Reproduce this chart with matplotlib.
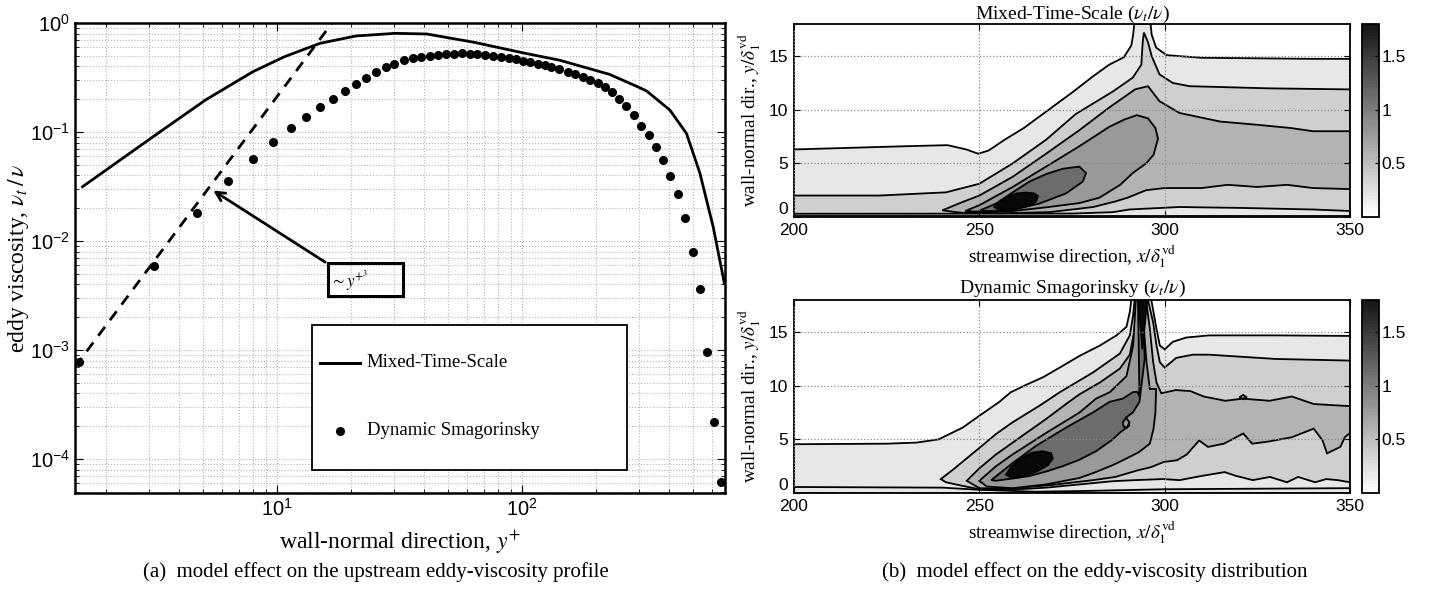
import numpy as np
import matplotlib
matplotlib.use("Agg")
import matplotlib.pyplot as plt
from matplotlib.patches import Rectangle
from matplotlib.lines import Line2D
from matplotlib.colors import LinearSegmentedColormap, Normalize
from matplotlib.cm import ScalarMappable

plt.rcParams['font.family'] = ['Liberation Sans', 'DejaVu Sans']
plt.rcParams['mathtext.fontset'] = 'stix'

SERIF = ['Liberation Serif', 'DejaVu Serif']

# ---------------- (a) upstream eddy-viscosity profile ----------------
mts_yplus = [1.61, 3.27, 5.12, 7.98, 10.75, 15.0, 21.0, 30.4, 40.9, 63.9, 100, 143,
             202, 228, 297, 323, 402, 470, 533, 604, 671]
mts_nut = [0.0315, 0.0973, 0.197, 0.357, 0.491, 0.651, 0.760, 0.804, 0.793, 0.665, 0.535, 0.455,
           0.365, 0.338, 0.26, 0.238, 0.159, 0.097, 0.042, 0.0135, 0.0041]

ds_yplus = [1.56, 3.16, 4.74, 6.34, 7.98, 9.68, 11.4, 13.1, 15.0, 16.9, 18.9, 21.0, 23.2, 25.5,
            27.9, 30.2, 33.0, 35.8, 38.9, 42.2, 45.5, 49.0, 52.8, 56.8, 61.2, 65.9, 71.0, 76.5,
            82.4, 88.8, 94.6, 101.4, 108.4, 116, 124, 132, 141.6, 153.7, 165.6, 177, 189.5,
            204, 218, 233, 249.6, 267, 286, 306, 329, 352, 377, 404, 433, 464, 498, 533,
            569, 610, 653]
ds_nut = [7.8e-4, 5.93e-3, 0.0180, 0.0353, 0.0565, 0.081, 0.108, 0.138, 0.170, 0.202, 0.239,
          0.276, 0.315, 0.353, 0.392, 0.423, 0.460, 0.474, 0.491, 0.501, 0.512, 0.519, 0.523,
          0.527, 0.523, 0.519, 0.508, 0.498, 0.488, 0.478, 0.467, 0.451, 0.439, 0.424, 0.409,
          0.392, 0.378, 0.357, 0.340, 0.318, 0.30, 0.28, 0.257, 0.234, 0.1995, 0.173, 0.143,
          0.114, 0.094, 0.073, 0.0553, 0.0395, 0.0268, 0.0161, 0.00798, 0.0036, 9.6e-4,
          2.2e-4, 6.2e-5]

# ~y+^3 reference line (end points)
cube_yplus = [1.5, 16.8]
cube_nut = [7.0e-4, 1.0]

# ---------------- (b) contour outlines, one polygon per level ----------------
# Mixed-Time-Scale
mts_l1_x = [200, 350, 350, 340, 325, 310, 304, 300.5, 297.7, 296.5, 296.2, 291.8, 291.5, 291.0,
            289.0, 285, 280.6, 275, 268.7, 262, 256.8, 252.5, 249.7, 246.5, 241.4, 230, 215, 200]
mts_l1_y = [0, 0, 14.75, 14.75, 14.8, 14.85, 15.0, 15.1, 15.8, 17.0, 18, 18, 17.0, 16.0,
            14.9, 14.2, 13.1, 11.6, 10.0, 8.3, 7.2, 6.2, 5.9, 6.3, 6.7, 6.6, 6.45, 6.3]

mts_l2_x = [200, 223, 241, 250, 259, 268, 276, 286, 291.4, 293.7, 294.1, 294.4, 295.5, 296.5,
            298.6, 302.2, 306.7, 328, 350, 350, 340, 320, 304, 290.5, 286, 275, 200]
mts_l2_y = [2.0, 2.0, 2.3, 3.1, 5.0, 7.2, 9.6, 11.7, 13.0, 14.2, 16.4, 17.2, 16.3, 15.0,
            13.3, 12.5, 12.2, 12.0, 11.9, 0.56, 0.7, 0.85, 0.93, 0.7, 0.45, 0.32, 0.3]

mts_l3_x = [240, 245.5, 250, 259, 268, 277, 285, 292, 295.5, 298.6, 304, 315, 325, 334, 340,
            350, 350, 340, 333, 325, 317, 310, 300, 295, 290, 286.7, 280.7, 268.8, 255, 245]
mts_l3_y = [0.62, 1.4, 2.0, 3.75, 5.9, 8.1, 10.2, 11.9, 12.2, 10.8, 9.7, 8.9, 8.6, 8.3, 8.0,
            8.0, 2.6, 2.7, 3.0, 2.8, 3.0, 2.7, 2.7, 2.5, 1.8, 1.45, 0.93, 0.45, 0.35, 0.4]

mts_l4_x = [246.2, 250, 259, 268, 277, 285, 289.2, 292.5, 295.5, 297.5, 298.2, 297, 295,
            291.4, 288, 282.4, 277, 268, 259, 252]
mts_l4_y = [0.56, 1.1, 2.8, 4.7, 6.6, 8.4, 9.1, 9.5, 9.2, 8.3, 7.3, 5.8, 5.0,
            4.1, 3.0, 1.8, 1.3, 0.9, 0.56, 0.45]

mts_l5_x = [249.8, 254.5, 259, 263.5, 268, 272.5, 277, 278.8, 277.9, 273.4, 266.2, 259, 254]
mts_l5_y = [0.56, 1.25, 2.3, 3.3, 4.0, 4.5, 4.7, 4.1, 3.3, 2.2, 1.25, 0.7, 0.55]

mts_l6_x = [254, 255.5, 257.2, 260, 262.6, 264.8, 265.8, 265.3, 263.5, 260.8, 257.5, 255]
mts_l6_y = [0.94, 1.45, 1.85, 2.2, 2.28, 2.2, 1.95, 1.45, 1.05, 0.8, 0.68, 0.72]

# Dynamic Smagorinsky
ds_l1_x = [200, 350, 350, 330, 312, 305.8, 302.2, 300, 298.7, 297.8, 296.4, 291, 290.6, 289.7,
           287, 282.5, 277.1, 271.7, 267.2, 262.7, 258.5, 255.4, 250, 245.5, 239, 233, 225, 200]
ds_l1_y = [0, 0, 14.65, 14.7, 14.7, 14.5, 14.1, 13.4, 13.75, 15.3, 18, 18, 16.9, 15.5,
           14.7, 13.75, 12.8, 11.7, 10.8, 10.1, 9.4, 8.5, 7.2, 6.1, 5.0, 4.7, 4.6, 4.55]

ds_l2_x = [239.6, 242.8, 250, 254.5, 259, 266.5, 271.7, 280.7, 287.9, 290.6, 291.5, 291.9,
           295.5, 296.9, 297.8, 298.7, 300, 303.1, 307.6, 312, 330, 350, 350, 346.7, 343.6,
           340.6, 336, 333, 328.4, 323.8, 319.2, 316.2, 310.1, 304, 299.5, 292, 286, 277,
           268, 259, 250, 245, 241]
ds_l2_y = [1.3, 2.15, 4.2, 5.5, 6.6, 8.2, 9.4, 11.25, 13.0, 14.7, 16.6, 18,
           18, 15.9, 13.75, 12.2, 11.7, 12.6, 12.9, 12.9, 12.5, 12.35, 1.0, 1.2, 1.3,
           1.0, 1.5, 1.0, 1.5, 1.2, 1.6, 1.95, 1.6, 1.2, 1.3, 1.2, 1.1, 0.8,
           0.5, 0.32, 0.35, 0.7, 1.0]

ds_l3_x = [246.6, 250, 254.5, 259, 268, 273.4, 277, 282.5, 287.9, 290.6, 291.9, 292.4, 295,
           296, 296.9, 297.8, 299.1, 303, 307, 310.5, 316.4, 321, 328.3, 334.3, 340.2, 345,
           350, 350, 348.6, 347.4, 343.8, 342.6, 340.2, 334.3, 328, 323.6, 321.2, 316, 311.7,
           309.3, 306, 303.3, 299.8, 296.2, 292.6, 286.7, 280.7, 268.8, 256.9, 250]
ds_l3_y = [1.14, 2.3, 3.6, 4.7, 6.9, 8.3, 9.2, 10.3, 11.6, 12.9, 15.3, 18, 18,
           15.3, 12.2, 10.3, 9.3, 9.6, 9.5, 9.0, 8.6, 8.8, 8.6, 9.0, 8.3, 8.2,
           8.1, 5.6, 5.2, 4.3, 3.7, 4.9, 6.0, 5.2, 4.8, 4.6, 5.55, 4.6, 4.3,
           4.9, 3.6, 3.05, 2.9, 2.4, 2.1, 1.5, 1.2, 0.72, 0.4, 0.45]

ds_l4_x = [250, 254.5, 259, 268, 277, 281.5, 285.2, 289.7, 291.5, 292.2, 294.6, 294.4, 295.1,
           296, 297.7, 297.5, 297, 296, 293, 289, 286, 281, 277, 268, 259, 252]
ds_l4_y = [1.14, 2.5, 3.6, 5.6, 7.5, 8.8, 9.4, 10.9, 13.75, 18, 18, 15.3, 12.2,
           9.7, 9.7, 7.5, 6.0, 4.6, 3.8, 3.1, 2.6, 1.9, 1.4, 0.8, 0.45, 0.6]

ds_l5_x = [253.2, 259, 265.3, 273.4, 280.6, 285.1, 288.7, 291.4, 292.6, 293.2, 292.8, 294.2,
           294.6, 293.2, 291.4, 289.6, 290.5, 287.8, 286, 281.5, 277, 272.5, 268, 263.5,
           259, 254.5]
ds_l5_y = [1.2, 2.8, 4.4, 6.1, 7.5, 8.5, 8.8, 9.4, 9.45, 9.0, 18, 18,
           12.5, 8.5, 7.5, 7.05, 6.3, 5.6, 5.0, 3.9, 3.1, 2.5, 2.0, 1.58,
           1.36, 1.14]

ds_l6_x = [257.2, 258.5, 261, 264, 267, 269.4, 269.8, 268.5, 265.5, 262, 259]
ds_l6_y = [1.7, 2.4, 3.2, 3.75, 3.9, 3.7, 3.2, 2.6, 2.0, 1.55, 1.36]
ds_spike_x = [292.9, 295.3, 294.0]
ds_spike_y = [18, 18, 13.4]
ds_island_x = [288.7, 289.6, 290.5, 289.8, 288.9]
ds_island_y = [6.6, 7.0, 6.6, 6.1, 6.2]
ds_blob_x = [320.2, 321.2, 322.0, 321.2]
ds_blob_y = [8.95, 9.15, 8.95, 8.75]

ds_wall_x = [200, 240, 250, 265, 280, 300, 350]
ds_wall_y = [0.56, 0.5, 0.3, 0.12, 0.2, 0.35, 0.45]

band_colors = ['#e7e7e7', '#cfcfcf', '#b3b3b3', '#999999', '#6c6c6c', '#080808']
nut_max = 1.8

fig = plt.figure(figsize=(14.32, 5.89), dpi=100)

# ---------------- left panel ----------------
ax = fig.add_axes([75/1432, 96/589, 650/1432, 470/589])
ax.set_xscale('log')
ax.set_yscale('log')
ax.plot(mts_yplus, mts_nut, '-', color='black', lw=2.0)
ax.plot(ds_yplus, ds_nut, 'o', color='black', ms=5.5, mec='black')
ax.plot(cube_yplus, cube_nut, '--', color='black', lw=2.0, dashes=(4, 3))
ax.set_xlim(1.5, 675)
ax.set_ylim(4.88e-5, 1.0)
ax.grid(True, which='both', ls=':', color='#b5b5b5', lw=0.8)
ax.tick_params(which='both', direction='in', top=True, right=True, labelsize=14.5)
ax.tick_params(which='major', length=6)
ax.tick_params(which='minor', length=3)
for s in ax.spines.values():
    s.set_linewidth(1.8)
ax.set_xlabel('wall-normal direction, $y^{+}$', family=SERIF, fontsize=17)
ax.set_ylabel(r'eddy viscosity, $\nu_t\,/\,\nu$', family=SERIF, fontsize=17)
ax.yaxis.set_label_coords(-0.068, 0.5)
ax.xaxis.set_label_coords(0.5, -0.075)
ax.xaxis.label.set_va('top')

# ~y+^3 annotation
ax.add_patch(Rectangle((16.1, 3.1e-3), 16.6, 3.2e-3, fill=False, ec='black', lw=2.2, zorder=5))
ax.text(16.5, 4.3e-3, r'$\sim y^{+^{3}}$', fontsize=12, family=SERIF, va='center', ha='left',
        zorder=6)
ax.annotate('', xy=(5.38, 0.030), xytext=(16.1, 6.2e-3),
            arrowprops=dict(arrowstyle='->', lw=2.0, color='black', mutation_scale=16))

# legend box
ax.add_patch(Rectangle((0.365, 0.049), 0.484, 0.308, transform=ax.transAxes,
                       fc='white', ec='black', lw=1.3, zorder=6))
ax.add_line(Line2D([0.377, 0.438], [0.277, 0.277], transform=ax.transAxes,
                   color='black', lw=2.2, zorder=7))
ax.add_line(Line2D([0.408], [0.132], transform=ax.transAxes, marker='o', ms=5.5,
                   color='black', ls='none', zorder=7))
ax.text(0.449, 0.277, 'Mixed-Time-Scale', transform=ax.transAxes, family=SERIF,
        fontsize=13.5, va='center', zorder=8)
ax.text(0.449, 0.132, 'Dynamic Smagorinsky', transform=ax.transAxes, family=SERIF,
        fontsize=13.5, va='center', zorder=8)

# ---------------- right panels ----------------
cmap = LinearSegmentedColormap.from_list('mgray', ['#ffffff', '#151515'], N=64)


def draw_field(axc, polys, extra_lines):
    for (px, py), col in polys:
        axc.fill(px, py, facecolor=col, edgecolor='black', lw=1.3)
    for lx, ly in extra_lines:
        axc.plot(lx, ly, color='black', lw=1.3)
    axc.set_xlim(200, 350)
    axc.set_ylim(0, 18)
    axc.set_xticks([200, 250, 300, 350])
    axc.set_yticks([0, 5, 10, 15])
    axc.grid(True, ls=':', color='#8a8a8a', lw=0.9)
    axc.set_axisbelow(False)
    axc.tick_params(direction='in', top=True, right=True, labelsize=12.5, length=4)
    axc.tick_params(axis='x', pad=4)
    axc.tick_params(axis='y', pad=4)
    for s in axc.spines.values():
        s.set_linewidth(1.3)
    axc.set_ylabel(r'wall-normal dir., $y/\delta_1^{\mathrm{vd}}$', family=SERIF, fontsize=13.8)
    axc.set_xlabel(r'streamwise direction, $x/\delta_1^{\mathrm{vd}}$', family=SERIF, fontsize=13.8)
    axc.yaxis.set_label_coords(-0.055, 0.5)
    axc.xaxis.set_label_coords(0.5, -0.14)
    axc.xaxis.label.set_va('top')
    # the "0" sits just above the "200" label, as in MATLAB
    axc.get_yticklabels()[0].set_va('bottom')


ax1 = fig.add_axes([794/1432, 372/589, 556/1432, 193/589])
draw_field(ax1,
           [((mts_l1_x, mts_l1_y), band_colors[0]),
            ((mts_l2_x, mts_l2_y), band_colors[1]),
            ((mts_l3_x, mts_l3_y), band_colors[2]),
            ((mts_l4_x, mts_l4_y), band_colors[3]),
            ((mts_l5_x, mts_l5_y), band_colors[4]),
            ((mts_l6_x, mts_l6_y), band_colors[5])],
           [])
ax1.fill_between([200, 350], 0, 0.15, color='#151515', lw=0)
ax1.set_title(r'Mixed-Time-Scale ($\nu_t/\nu$)', family=SERIF, fontsize=14, pad=4)

ax2 = fig.add_axes([794/1432, 96/589, 556/1432, 193/589])
draw_field(ax2,
           [((ds_l1_x, ds_l1_y), band_colors[0]),
            ((ds_l2_x, ds_l2_y), band_colors[1]),
            ((ds_l3_x, ds_l3_y), band_colors[2]),
            ((ds_l4_x, ds_l4_y), band_colors[3]),
            ((ds_l5_x, ds_l5_y), band_colors[4]),
            ((ds_l6_x, ds_l6_y), band_colors[5]),
            ((ds_spike_x, ds_spike_y), band_colors[5]),
            ((ds_island_x, ds_island_y), band_colors[3]),
            ((ds_blob_x, ds_blob_y), band_colors[3])],
           [(ds_wall_x, ds_wall_y)])
ax2.set_title(r'Dynamic Smagorinsky ($\nu_t/\nu$)', family=SERIF, fontsize=14, pad=5)

for a, bottom in [(ax1, 372), (ax2, 96)]:
    cax = fig.add_axes([1362/1432, bottom/589, 17/1432, 193/589])
    sm = ScalarMappable(norm=Normalize(0, nut_max), cmap=cmap)
    cb = fig.colorbar(sm, cax=cax, ticks=[0.5, 1, 1.5])
    cb.ax.set_yticklabels(['0.5', '1', '1.5'])
    cb.ax.tick_params(direction='in', labelsize=12.5, length=3, pad=2)
    cb.outline.set_linewidth(1.3)

fig.text(376/1432, 17/589, '(a)  model effect on the upstream eddy-viscosity profile',
         ha='center', va='center', family=SERIF, fontsize=15)
fig.text(1095/1432, 17/589, '(b)  model effect on the eddy-viscosity distribution',
         ha='center', va='center', family=SERIF, fontsize=15)

fig.savefig('out.png', dpi=100)
